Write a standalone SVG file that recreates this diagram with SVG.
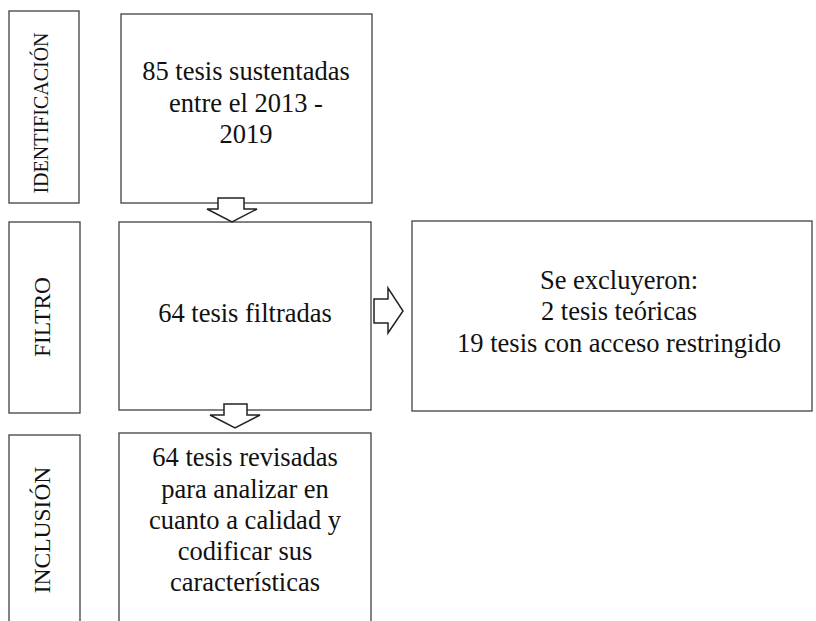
<svg xmlns="http://www.w3.org/2000/svg" width="816" height="621" viewBox="0 0 816 621">
<defs>
<style>
.box{fill:#fff;stroke:#404040;stroke-width:1.3}
.arr{fill:#fff;stroke:#222;stroke-width:1.5;stroke-linejoin:miter}
</style>
</defs>
<rect width="816" height="621" fill="#fff"/>
<g font-family="'Liberation Serif', 'Times New Roman', serif" fill="#111" text-anchor="middle">
<g id="label-identificacion">
<rect class="box" x="9" y="11" width="70" height="192"/>
<text font-size="20" transform="translate(48,113) rotate(-90)">IDENTIFICACIÓN</text>
</g>
<g id="label-filtro">
<rect class="box" x="9" y="222" width="71" height="191"/>
<text font-size="23.5" transform="translate(50,317) rotate(-90)">FILTRO</text>
</g>
<g id="label-inclusion">
<rect class="box" x="9" y="435" width="71" height="200"/>
<text font-size="23.5" transform="translate(50,530) rotate(-90)">INCLUSIÓN</text>
</g>
<g id="node-identificacion" font-size="26.5">
<rect class="box" x="121" y="14" width="251" height="189"/>
<text x="246" y="80">85 tesis sustentadas</text>
<text x="246" y="112">entre el 2013 -</text>
<text x="246" y="143">2019</text>
</g>
<g id="node-filtro" font-size="26.5">
<rect class="box" x="119" y="222" width="252" height="188"/>
<text x="245" y="322">64 tesis filtradas</text>
</g>
<g id="node-excluidas" font-size="26.5">
<rect class="box" x="412" y="221" width="400" height="190"/>
<text x="619" y="289">Se excluyeron:</text>
<text x="619" y="320">2 tesis teóricas</text>
<text x="619" y="352">19 tesis con acceso restringido</text>
</g>
<g id="node-inclusion" font-size="26.5">
<rect class="box" x="119" y="433" width="252" height="200"/>
<text x="245" y="466">64 tesis revisadas</text>
<text x="245" y="498">para analizar en</text>
<text x="245" y="529">cuanto a calidad y</text>
<text x="245" y="560">codificar sus</text>
<text x="245" y="591">características</text>
</g>
</g>
<g id="connectors">
<path class="arr" d="M218,198 H244 V209 H257 L232,222 L207,209 H218 Z"/>
<path class="arr" d="M224,404 H247 V415 H260 L235,428 L210,415 H224 Z"/>
<path class="arr" d="M374,299 H388 V288 L403,311 L388,333 V323 H374 Z"/>
</g>
</svg>
